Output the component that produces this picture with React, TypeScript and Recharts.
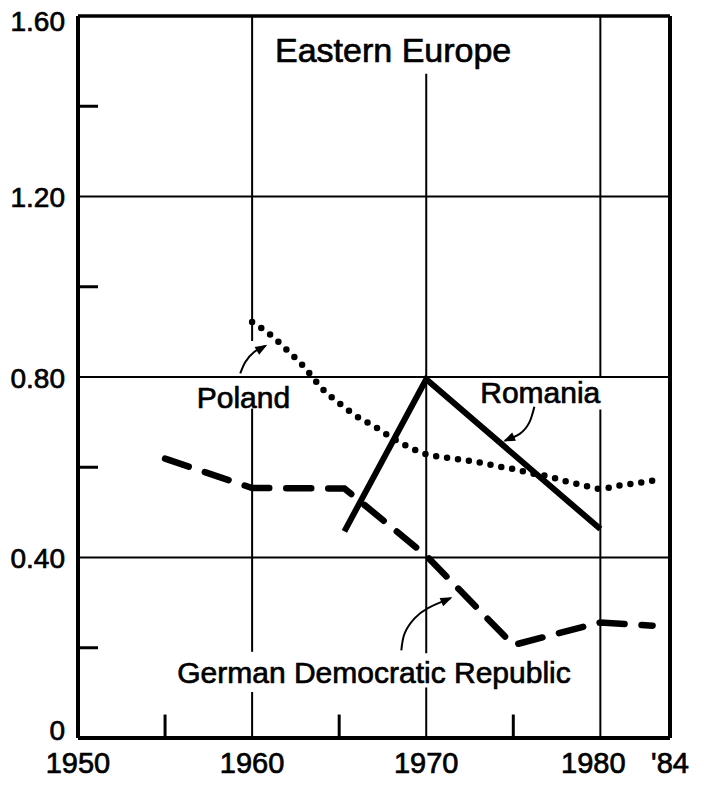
import React from 'react';
import { LineChart, Line, XAxis, YAxis, CartesianGrid, ReferenceLine, ReferenceDot } from 'recharts';

const FONT = '"Liberation Sans", Arial, Helvetica, sans-serif';

// ---- data ----
const polandYears = [1960, 1961, 1962, 1963, 1964, 1965, 1966, 1967, 1968, 1969, 1970, 1971, 1972, 1973, 1974, 1975, 1976, 1977, 1978, 1979, 1980, 1981, 1982, 1983];
const polandValues = [0.922, 0.895, 0.86, 0.822, 0.775, 0.742, 0.713, 0.691, 0.666, 0.645, 0.629, 0.622, 0.617, 0.611, 0.603, 0.596, 0.587, 0.58, 0.569, 0.56, 0.552, 0.559, 0.564, 0.57];

const romaniaYears = [1965.3, 1970, 1980];
const romaniaValues = [0.458, 0.795, 0.463];

const gdrYears = [1955, 1960, 1965.3, 1970, 1975, 1980, 1983];
const gdrValues = [0.619, 0.554, 0.553, 0.404, 0.206, 0.256, 0.249];

// annotation arrows (data coordinates)
const polandArrowYears = [1959.32, 1959.61, 1960.1, 1960.77];
const polandArrowValues = [0.808, 0.833, 0.855, 0.869];
const romaniaArrowYears = [1976.21, 1975.93, 1975.37, 1974.52];
const romaniaArrowValues = [0.734, 0.7, 0.674, 0.659];
const gdrArrowYears = [1968.57, 1968.76, 1969.33, 1970.1, 1971.4];
const gdrArrowValues = [0.194, 0.232, 0.265, 0.288, 0.31];

// axes
const xTicks = [1950, 1960, 1970, 1980, 1984];
const xTickLabels = ['1950', '1960', '1970', '1980', "'84"];
const yTicks = [0, 0.4, 0.8, 1.2, 1.6];
const yTickLabels = ['0', '0.40', '0.80', '1.20', '1.60'];
const yMinorTicks = [0.2, 0.6, 1.0, 1.4];
const xMinorTicks = [1955, 1965, 1975];

// labels
const titleText = 'Eastern Europe';
const seriesLabels = [
  { text: 'Poland', x: 1959.5, y: 0.755 },
  { text: 'Romania', x: 1976.55, y: 0.767 },
  { text: 'German Democratic Republic', x: 1967.0, y: 0.146 },
];

// vertical grid lines, broken where labels sit
const vGrid = [
  { x: 1960, parts: [[0, 0.102], [0.191, 0.73], [0.88, 1.6]] },
  { x: 1970, parts: [[0, 0.112], [0.188, 1.472]] },
  { x: 1980, parts: [[0, 0.728], [0.8, 1.6]] },
];

const toXY = (xs: number[], ys: number[]) => xs.map((x, i) => ({ x, y: ys[i] }));
const polandData = toXY(polandYears, polandValues);
const romaniaData = toXY(romaniaYears, romaniaValues);
const gdrData = toXY(gdrYears, gdrValues);
const polandArrow = toXY(polandArrowYears, polandArrowValues);
const romaniaArrow = toXY(romaniaArrowYears, romaniaArrowValues);
const gdrArrow = toXY(gdrArrowYears, gdrArrowValues);

const TEXT_STROKE = { stroke: '#000', strokeWidth: 0.7 };

const XTick = (props: any) => {
  const { x, y, payload } = props;
  const i = xTicks.indexOf(payload.value);
  const dx = payload.value === 1980 ? -7 : 0;
  return (
    <text x={x + dx} y={y} dy="0.71em" textAnchor="middle" fontSize={29} fontFamily={FONT} fill="#000" {...TEXT_STROKE}>
      {xTickLabels[i]}
    </text>
  );
};

const YTick = (props: any) => {
  const { x, y, payload } = props;
  const i = yTicks.indexOf(payload.value);
  const extra = payload.value === 1.6 ? 5 : payload.value === 0 ? -8 : 1;
  return (
    <text x={x} y={y + extra} dy="0.355em" textAnchor="end" fontSize={28} fontFamily={FONT} fill="#000" {...TEXT_STROKE}>
      {yTickLabels[i]}
    </text>
  );
};

const arrowHead = (len: number, angle: number) => (props: any) => {
  const { cx, cy, index } = props;
  if (index !== len - 1 || cx == null) return <g key={`a${index}`} />;
  return (
    <polygon
      key={`a${index}`}
      points="2,0 -10,-4.5 -10,4.5"
      fill="#000"
      transform={`translate(${cx},${cy}) rotate(${angle})`}
    />
  );
};

export default function App() {
  return (
    <div style={{ position: 'absolute', left: 0, top: 0, background: '#fff' }}>
      <LineChart width={704} height={787} margin={{ top: 16, right: 34, bottom: 9, left: 0 }}>
        <CartesianGrid vertical={false} stroke="#000" strokeWidth={2} strokeDasharray="" />
        <XAxis
          type="number"
          dataKey="x"
          domain={[1950, 1984]}
          ticks={xTicks}
          tickLine={false}
          tickSize={0}
          tickMargin={14}
          height={40}
          axisLine={{ stroke: '#000', strokeWidth: 4 }}
          tick={<XTick />}
          allowDataOverflow
        />
        <YAxis
          type="number"
          dataKey="y"
          domain={[0, 1.6]}
          ticks={yTicks}
          tickLine={false}
          tickSize={0}
          tickMargin={13}
          width={78}
          axisLine={{ stroke: '#000', strokeWidth: 4 }}
          tick={<YTick />}
          allowDataOverflow
        />
        {/* frame */}
        <ReferenceLine y={1.6} stroke="#000" strokeWidth={3.5} />
        <ReferenceLine x={1984} stroke="#000" strokeWidth={4} />
        {/* vertical grid segments */}
        {vGrid.flatMap((g) =>
          g.parts.map((p, j) => (
            <ReferenceLine
              key={`v${g.x}-${j}`}
              segment={[{ x: g.x, y: p[0] }, { x: g.x, y: p[1] }]}
              stroke="#000"
              strokeWidth={2}
            />
          ))
        )}
        {/* minor ticks */}
        {yMinorTicks.map((v) => (
          <ReferenceLine key={`ym${v}`} segment={[{ x: 1950, y: v }, { x: 1951.15, y: v }]} stroke="#000" strokeWidth={3} />
        ))}
        {xMinorTicks.map((v) => (
          <ReferenceLine key={`xm${v}`} segment={[{ x: v, y: 0 }, { x: v, y: 0.052 }]} stroke="#000" strokeWidth={3} />
        ))}

        {/* series */}
        <Line
          data={polandData}
          dataKey="y"
          type="monotone"
          stroke="#000"
          strokeWidth={6.5}
          strokeDasharray="0 11"
          strokeLinecap="round"
          dot={false}
          activeDot={false}
          isAnimationActive={false}
        />
        <Line
          data={romaniaData}
          dataKey="y"
          type="linear"
          stroke="#000"
          strokeWidth={6}
          dot={false}
          activeDot={false}
          isAnimationActive={false}
        />
        <Line
          data={gdrData}
          dataKey="y"
          type="linear"
          stroke="#000"
          strokeWidth={6.5}
          strokeDasharray="25 17"
          strokeLinecap="round"
          dot={false}
          activeDot={false}
          isAnimationActive={false}
        />

        {/* annotation arrows */}
        <Line data={polandArrow} dataKey="y" type="natural" stroke="#000" strokeWidth={2} dot={arrowHead(polandArrow.length, -30)} activeDot={false} isAnimationActive={false} />
        <Line data={romaniaArrow} dataKey="y" type="natural" stroke="#000" strokeWidth={2} dot={arrowHead(romaniaArrow.length, 156)} activeDot={false} isAnimationActive={false} />
        <Line data={gdrArrow} dataKey="y" type="natural" stroke="#000" strokeWidth={2} dot={arrowHead(gdrArrow.length, -23)} activeDot={false} isAnimationActive={false} />

        {/* labels */}
        <ReferenceDot
          x={1968.1}
          y={1.525}
          r={0}
          fill="none"
          stroke="none"
          label={{ value: titleText, position: 'center', fontSize: 34, fill: '#000', fontFamily: FONT, ...TEXT_STROKE }}
        />
        {seriesLabels.map((l) => (
          <ReferenceDot
            key={l.text}
            x={l.x}
            y={l.y}
            r={0}
            fill="none"
            stroke="none"
            label={{ value: l.text, position: 'center', fontSize: 30, fill: '#000', fontFamily: FONT, ...TEXT_STROKE }}
          />
        ))}
      </LineChart>
    </div>
  );
}
